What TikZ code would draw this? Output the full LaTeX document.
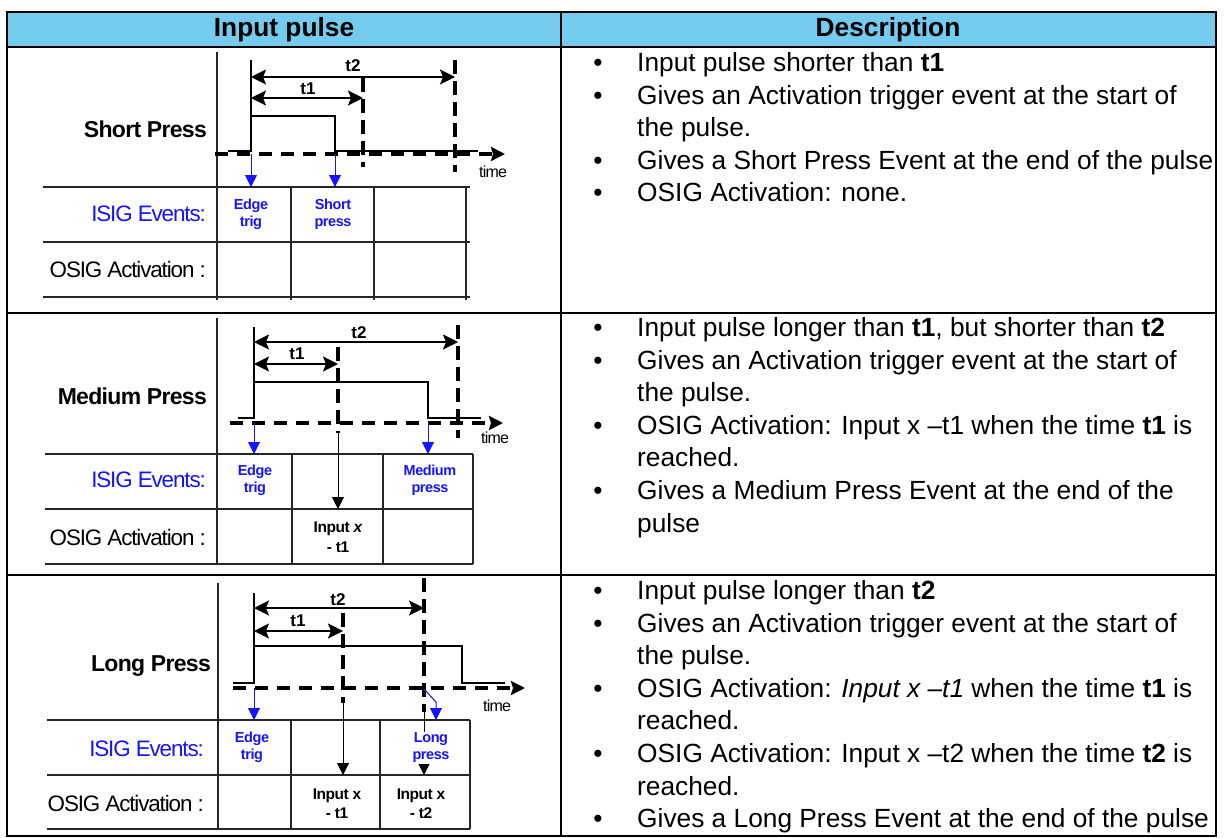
\documentclass[tikz,border=0pt]{standalone}
\usepackage{fontspec}
\setmainfont{Liberation Sans}
\newfontfamily\tightsans{Liberation Sans}[LetterSpace=-5]
\newfontfamily\tightbold{Liberation Sans}[LetterSpace=-3]
\usetikzlibrary{arrows.meta}
\definecolor{headblue}{RGB}{116,203,238}
\definecolor{evblue}{RGB}{20,20,255}
\newcommand{\bodyfs}{\fontsize{26.3}{32}\selectfont}
\begin{document}
\begin{tikzpicture}[x=1pt,y=-1pt,
  frame/.style={line width=2.4pt},
  gridln/.style={line width=1.1pt, black!85},
  pulse/.style={line width=1.8pt},
  refline/.style={line width=1.3pt},
  dashln/.style={line width=3.4pt, dash pattern=on 13pt off 9pt},
  vdashln/.style={line width=3.6pt, dash pattern=on 14pt off 7pt},
  timeaxis/.style={dashln, -{Stealth[length=14pt,width=14pt,inset=2pt]}},
  tspan/.style={line width=1.8pt, {Stealth[length=15pt,width=15pt,inset=3pt]}-{Stealth[length=15pt,width=15pt,inset=3pt]}},
  evarrow/.style={evblue, line width=1pt, -{Triangle[length=12pt,width=12pt]}},
  osarrow/.style={black, line width=1pt, -{Triangle[length=12pt,width=12pt]}},
  body/.style={font=\bodyfs, inner sep=0pt, anchor=base west},
  bul/.style={font=\bodyfs, inner sep=0pt, anchor=base},
  head/.style={font=\bfseries\bodyfs, inner sep=0pt},
  plabel/.style={font=\tightbold\bfseries\fontsize{23}{26}\selectfont, inner sep=0pt, anchor=base east},
  isig/.style={font=\tightsans\fontsize{22.4}{26}\selectfont, text=evblue, inner sep=0pt, anchor=base east},
  osig/.style={font=\tightsans\fontsize{22.4}{26}\selectfont, inner sep=0pt, anchor=base east},
  evtext/.style={font=\tightbold\bfseries\fontsize{14.5}{17}\selectfont, text=evblue, align=center, inner sep=0pt},
  ostext/.style={font=\tightbold\bfseries\fontsize{15.5}{19.5}\selectfont, align=center, inner sep=0pt},
  tlab/.style={font=\bfseries\fontsize{17}{19}\selectfont, inner sep=0pt},
  timelab/.style={font=\tightsans\fontsize{16}{18}\selectfont, inner sep=0pt}
]
\useasboundingbox (0,0) rectangle (1224,838);

% table frame and header
\fill[headblue] (7,12) rectangle (1216,47);
\draw[frame] (7,12) rectangle (1216,836);
\draw[frame] (7,47) -- (1216,47) (7,313) -- (1216,313) (7,575) -- (1216,575);
\draw[frame] (561,12) -- (561,836);
\node[head] (hin) at (284,30) {Input pulse};
\node[head] (hdesc) at (888,30) {Description};

% ---------------- short press ----------------
\draw[gridln] (43,187) -- (470,187) (43,242) -- (470,242) (43,297) -- (470,297);
\draw[gridln] (217,52) -- (217,300);
\draw[gridln] (291,187) -- (291,300) (374,187) -- (374,300) (466,187) -- (466,300);
\draw[pulse] (228,151) -- (251,151) -- (251,116) -- (335,116) -- (335,151) -- (478,151);
\draw[refline] (251,60) -- (251,116);
\draw[vdashln] (363,78) -- (363,167);
\draw[vdashln] (455,60) -- (455,172);
\draw[timeaxis] (215,154) -- (505,154);
\draw[tspan] (251,77) -- (455,77);
\draw[tspan] (251,98) -- (363,98);
\node[tlab] (s-t2) at (353,66) {t2};
\node[tlab] (s-t1) at (308,89) {t1};
\node[timelab] (s-time) at (493,172) {time};
\draw[evarrow] (251,154) -- (251,187);
\draw[evarrow] (335,154) -- (335,187);
\node[plabel] (s-name) at (207,137.5) {Short Press};
\node[isig] (s-isig) at (206,221) {ISIG Events:};
\node[osig] (s-osig) at (206,277) {OSIG Activation :};
\node[evtext] (s-edge) at (251,214.5) {Edge\\trig};
\node[evtext] (s-short) at (333,214.5) {Short\\press};

\node[bul] (s-b1) at (598,71.4) {•};
\node[body] (s-l1) at (637,71.4) {Input pulse shorter than \textbf{t1}};
\node[bul] (s-b2) at (598,104) {•};
\node[body] (s-l2) at (637,104) {Gives an Activation trigger event at the start of};
\node[body] (s-l3) at (637,136.6) {the pulse.};
\node[bul] (s-b4) at (598,169.2) {•};
\node[body] (s-l4) at (637,169.2) {Gives a Short Press Event at the end of the pulse};
\node[bul] (s-b5) at (598,201.8) {•};
\node[body] (s-l5) at (637,201.8) {OSIG Activation: none.};

% ---------------- medium press ----------------
\draw[gridln] (45,454) -- (473,454) (45,509) -- (473,509) (45,564) -- (473,564);
\draw[gridln] (217,318) -- (217,564);
\draw[gridln] (292,454) -- (292,564) (383,454) -- (383,564) (473,454) -- (473,564);
\draw[pulse] (238,418) -- (254,418) -- (254,382) -- (428,382) -- (428,418) -- (481,418);
\draw[refline] (254,327) -- (254,382);
\draw[vdashln] (338,347) -- (338,433);
\draw[vdashln] (458,325) -- (458,438);
\draw[timeaxis] (230,423) -- (503,423);
\draw[tspan] (254,342) -- (458,342);
\draw[tspan] (254,364) -- (338,364);
\node[tlab] (m-t2) at (359,333) {t2};
\node[tlab] (m-t1) at (297,354) {t1};
\node[timelab] (m-time) at (495,438) {time};
\coordinate (m-t1end) at (338,433);
\coordinate (m-t1cell) at (338,509);
\draw[osarrow] (m-t1end) -- (m-t1cell);
\draw[evarrow] (254,423) -- (254,454);
\draw[evarrow] (428,423) -- (428,454);
\node[plabel] (m-name) at (207,404.5) {Medium Press};
\node[isig] (m-isig) at (206,487) {ISIG Events:};
\node[osig] (m-osig) at (206,545) {OSIG Activation :};
\node[evtext] (m-edge) at (255,480.5) {Edge\\trig};
\node[evtext] (m-medium) at (430,480.5) {Medium\\press};
\node[ostext] (m-in1) at (338,537) {Input \textit{x}\\- t1};

\node[bul] (m-b1) at (598,336.4) {•};
\node[body] (m-l1) at (637,336.4) {Input pulse longer than \textbf{t1}, but shorter than \textbf{t2}};
\node[bul] (m-b2) at (598,369) {•};
\node[body] (m-l2) at (637,369) {Gives an Activation trigger event at the start of};
\node[body] (m-l3) at (637,401.6) {the pulse.};
\node[bul] (m-b4) at (598,434.2) {•};
\node[body] (m-l4) at (637,434.2) {OSIG Activation: Input x –t1 when the time \textbf{t1} is};
\node[body] (m-l5) at (637,466.8) {reached.};
\node[bul] (m-b6) at (598,499.4) {•};
\node[body] (m-l6) at (637,499.4) {Gives a Medium Press Event at the end of the};
\node[body] (m-l7) at (637,532) {pulse};

% ---------------- long press ----------------
\draw[gridln] (47,720) -- (470,720) (47,775) -- (470,775) (47,829) -- (470,829);
\draw[gridln] (218,583) -- (218,829);
\draw[gridln] (291,720) -- (291,829) (380,720) -- (380,829) (470,720) -- (470,829);
\draw[pulse] (233,683) -- (254,683) -- (254,646) -- (462,646) -- (462,683) -- (505,683);
\draw[refline] (254,593) -- (254,646);
\draw[vdashln] (343,613) -- (343,703);
\draw[vdashln] (424,578) -- (424,712);
\draw[timeaxis] (233,688) -- (525,688);
\draw[tspan] (254,608) -- (424,608);
\draw[tspan] (254,631) -- (343,631);
\node[tlab] (l-t2) at (338,600) {t2};
\node[tlab] (l-t1) at (298,621) {t1};
\node[timelab] (l-time) at (497,706) {time};
\coordinate (l-t1end) at (343,703);
\coordinate (l-t1cell) at (343,775);
\coordinate (l-t2end) at (424,712);
\coordinate (l-t2cell) at (424,775);
\draw[osarrow] (l-t1end) -- (l-t1cell);
\draw[osarrow] (l-t2end) -- (l-t2cell);
\draw[evarrow] (424,689) -- (436,702) -- (436,720);
\draw[evarrow] (254,688) -- (254,720);
\node[plabel] (l-name) at (211,671.5) {Long Press};
\node[isig] (l-isig) at (204,756) {ISIG Events:};
\node[osig] (l-osig) at (204,811) {OSIG Activation :};
\node[evtext] (l-edge) at (252,747.5) {Edge\\trig};
\node[evtext, fill=white, inner sep=1pt] (l-long) at (431,747.5) {Long\\press};
\node[ostext] (l-in1) at (337,803.5) {Input x\\- t1};
\node[ostext] (l-in2) at (421,803.5) {Input x\\- t2};

\node[bul] (l-b1) at (598,599.4) {•};
\node[body] (l-l1) at (637,599.4) {Input pulse longer than \textbf{t2}};
\node[bul] (l-b2) at (598,632) {•};
\node[body] (l-l2) at (637,632) {Gives an Activation trigger event at the start of};
\node[body] (l-l3) at (637,664.6) {the pulse.};
\node[bul] (l-b4) at (598,697.2) {•};
\node[body] (l-l4) at (637,697.2) {OSIG Activation: \textit{Input x –t1} when the time \textbf{t1} is};
\node[body] (l-l5) at (637,729.8) {reached.};
\node[bul] (l-b6) at (598,762.4) {•};
\node[body] (l-l6) at (637,762.4) {OSIG Activation: Input x –t2 when the time \textbf{t2} is};
\node[body] (l-l7) at (637,795) {reached.};
\node[bul] (l-b8) at (598,827.6) {•};
\node[body] (l-l8) at (637,827.6) {Gives a Long Press Event at the end of the pulse};
\end{tikzpicture}
\end{document}
